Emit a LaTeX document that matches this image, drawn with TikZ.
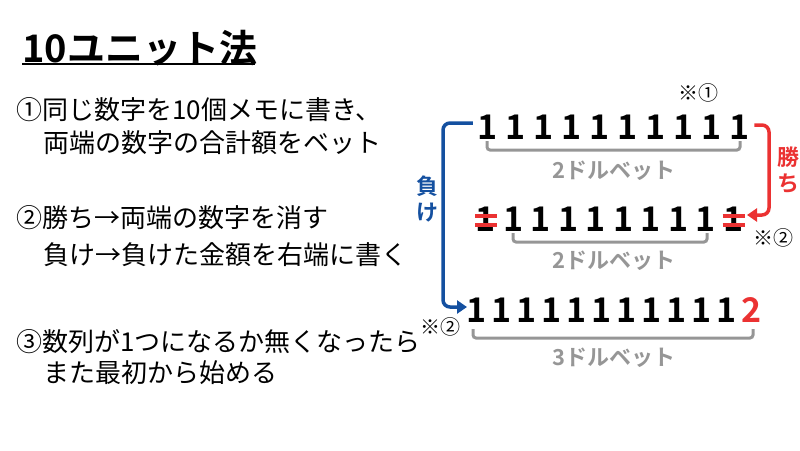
\documentclass[tikz,border=0pt]{standalone}
\usepackage{fontspec}
\setmainfont{Noto Sans CJK JP}
\newfontfamily\jpbold{Noto Sans CJK JP Bold}
\usetikzlibrary{arrows.meta}
\definecolor{betgray}{RGB}{150,150,150}
\definecolor{winred}{RGB}{235,50,50}
\definecolor{loseblue}{RGB}{20,80,160}
\tikzset{
  body/.style={anchor=west,inner sep=0pt,font=\fontsize{26}{26}\selectfont},
  digit/.style={inner sep=0pt,font=\jpbold\fontsize{34}{34}\selectfont},
  betlabel/.style={inner sep=0pt,text=betgray,font=\jpbold\fontsize{22}{22}\selectfont},
  bracket/.style={betgray,line width=3pt,rounded corners=3pt},
  note/.style={inner sep=0pt,font=\fontsize{20}{20}\selectfont},
  strike/.style={winred,line width=4pt},
  flow/.style={line width=3.5pt,rounded corners=7pt,-{Triangle[length=10pt,width=13pt]}},
  flowlabel/.style={inner sep=0pt,font=\jpbold\fontsize{22}{22}\selectfont,align=center}
}
\begin{document}
\begin{tikzpicture}[x=1pt,y=-1pt]
  \useasboundingbox (0,0) rectangle (800,450);

  % Title
  \node[anchor=west,inner sep=0pt,font=\jpbold\fontsize{38}{38}\selectfont] (title) at (22,48) {10ユニット法};
  \draw[line width=2.5pt] (22,64) -- (255,64);

  % Rules
  \node[body] (r1a) at (16,110) {①同じ数字を10個メモに書き、};
  \node[body] (r1b) at (43,143) {両端の数字の合計額をベット};
  \node[body] (r2a) at (16,218) {②勝ち→両端の数字を消す};
  \node[body] (r2b) at (43,255) {負け→負けた金額を右端に書く};
  \node[body] (r3a) at (16,342) {③数列が1つになるか無くなったら};
  \node[body] (r3b) at (43,373) {また最初から始める};

  % Row 1
  \foreach \i in {0,...,9}
    \node[digit] (a\i) at (488+27.9*\i,127) {1};
  \draw[bracket] (487,141) |- (740,150) -- (740,141);
  \node[betlabel] (bet1) at (614,171) {2ドルベット};
  \node[note] (n1) at (698,93) {※①};

  % Row 2
  \foreach \i in {0,...,9}
    \node[digit] (b\i) at (486+27.5*\i,219) {1};
  \foreach \i in {0,9} {
    \draw[strike] ([xshift=-11pt]b\i.center) ++(0,-3) -- ++(22,0);
    \draw[strike] ([xshift=-11pt]b\i.center) ++(0,6) -- ++(22,0);
  }
  \draw[bracket] (513,233) |- (707,242) -- (707,233);
  \node[betlabel] (bet2) at (614,261) {2ドルベット};
  \node[note] (n2) at (773,238) {※②};

  % Row 3
  \foreach \i in {0,...,10}
    \node[digit] (c\i) at (477+25*\i,310) {1};
  \node[digit,text=winred] (c11) at (752,310) {2};
  \draw[bracket] (473,329) |- (753,338) -- (753,329);
  \node[betlabel] (bet3) at (614,358) {3ドルベット};
  \node[note] (n3) at (440,327) {※②};

  % Win / lose arrows
  \coordinate (winin) at (747,215);
  \draw[flow,winred] (a9.east) ++(5,-2) -| (769,215) -- (winin);
  \node[flowlabel,text=winred] (win) at (788,170) {勝\\[4pt]ち};
  \coordinate (losein) at (467,307);
  \draw[flow,loseblue] (a0.west) ++(-5,-4) -| (443,307) -- (losein);
  \node[flowlabel,text=loseblue] (lose) at (427,199) {負\\[4pt]け};
\end{tikzpicture}
\end{document}
